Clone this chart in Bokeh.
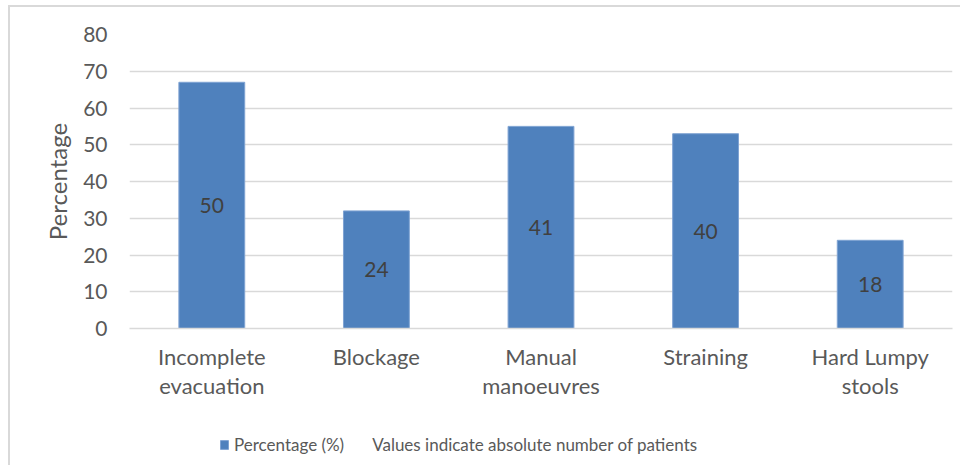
from bokeh.plotting import figure
from bokeh.layouts import column
from bokeh.models import ColumnDataSource, FactorRange, Range1d, Legend, LegendItem, FixedTicker
from bokeh.core.properties import value
from bokeh.embed import file_html
from bokeh.resources import INLINE

categories = ["Incomplete\nevacuation", "Blockage", "Manual\nmanoeuvres", "Straining", "Hard Lumpy\nstools"]
percentages = [67, 32, 55, 53, 24]
patient_counts = [50, 24, 41, 40, 18]
y_ticks = [0, 10, 20, 30, 40, 50, 60, 70, 80]
legend_labels = ["Percentage (%)", "Values indicate absolute number of patients"]

FONT = "Lato"
TXT = "#595959"
BAR = "#4f81bd"
BAR_EDGE = "#7fa3d3"
GRID = "#d9d9d9"

src = ColumnDataSource(dict(
    cat=categories,
    pct=percentages,
    mid=[v / 2 for v in percentages],
    lab=[str(n) for n in patient_counts],
))

p = figure(
    x_range=FactorRange(*categories, range_padding=0),
    y_range=Range1d(0, 80),
    width=950, height=413,
    output_backend="svg", toolbar_location=None,
    min_border_left=119, min_border_right=8, min_border_top=27, min_border_bottom=92,
)
p.outline_line_color = None
p.background_fill_color = "white"
p.border_fill_color = "white"

p.vbar(x="cat", top="pct", width=0.4, source=src, fill_color=BAR, line_color=BAR_EDGE, line_width=1)
p.text(x="cat", y="mid", text="lab", source=src, text_align="center", text_baseline="middle",
       text_font=value(FONT), text_font_size="21px", text_color="#404040")

p.xgrid.grid_line_color = None
p.ygrid.grid_line_color = GRID
p.ygrid.grid_line_width = 1.5
p.yaxis.ticker = FixedTicker(ticks=y_ticks)

p.yaxis.axis_label = "Percentage"
p.yaxis.axis_label_text_font = FONT
p.yaxis.axis_label_text_font_size = "24px"
p.yaxis.axis_label_text_font_style = "normal"
p.yaxis.axis_label_text_color = TXT
p.yaxis.axis_label_standoff = 8
p.yaxis.axis_line_color = None
p.yaxis.major_tick_line_color = None
p.yaxis.minor_tick_line_color = None
p.yaxis.major_label_text_font = FONT
p.yaxis.major_label_text_font_size = "21px"
p.yaxis.major_label_text_color = TXT
p.yaxis.major_label_standoff = 16

p.xaxis.axis_line_color = GRID
p.xaxis.axis_line_width = 1.5
p.xaxis.major_tick_line_color = None
p.xaxis.minor_tick_line_color = None
p.xaxis.major_label_text_font = FONT
p.xaxis.major_label_text_font_size = "22px"
p.xaxis.major_label_text_color = TXT
p.xaxis.major_label_text_line_height = 1.1
p.xaxis.major_label_standoff = 8

# legend strip below the chart (its frame is aligned with the chart's frame by the column)
lg = figure(width=950, height=45, output_backend="svg", toolbar_location=None,
            x_axis_type=None, y_axis_type=None,
            x_range=Range1d(0, 1), y_range=Range1d(0, 1),
            min_border_left=0, min_border_right=0, min_border_top=0, min_border_bottom=0)
lg.grid.visible = False
lg.outline_line_color = None
lg.border_fill_color = "white"
# renderers placed below the visible range: only their legend glyphs show
key = lg.vbar(x=[0.5], top=[-5], bottom=[-6], width=0.1, fill_color=BAR, line_color=BAR_EDGE)
note = lg.scatter(x=[0.5], y=[-5], size=0, fill_alpha=0, line_alpha=0)

legend = Legend(
    items=[LegendItem(label=legend_labels[0], renderers=[key]),
           LegendItem(label=legend_labels[1], renderers=[note])],
    orientation="horizontal",
    location=(90, 10),
    label_text_font=FONT, label_text_font_size="17px", label_text_color=TXT,
    glyph_width=10, glyph_height=11, label_standoff=5, spacing=13,
    border_line_color=None, background_fill_alpha=0, padding=0, margin=0,
)
lg.add_layout(legend, "center")

layout = column(p, lg, spacing=0)
layout.styles = {"border-left": "2px solid #d9d9d9", "border-top": "2px solid #d9d9d9",
                 "margin-left": "8px", "margin-top": "5px"}

open("out.html", "w").write(file_html(layout, INLINE))
